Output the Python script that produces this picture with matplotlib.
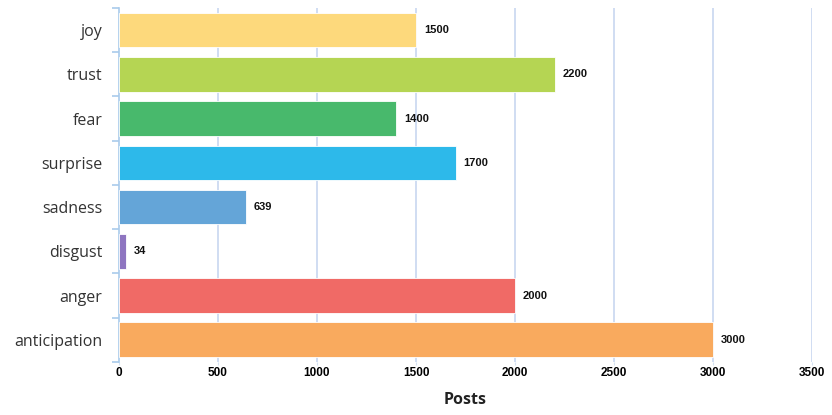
import matplotlib.pyplot as plt
import numpy as np

# emotion counts
emotions = ['joy', 'trust', 'fear', 'surprise', 'sadness', 'disgust', 'anger', 'anticipation']
posts = [1500, 2200, 1400, 1700, 639, 34, 2000, 3000]
colors = ['#FDD97C', '#B5D553', '#48B96C', '#2DB9EA', '#64A5D8', '#8E75C0', '#F06A66', '#F9AA5E']
xticks = [0, 500, 1000, 1500, 2000, 2500, 3000, 3500]

num_font = ['Liberation Sans Narrow', 'Liberation Sans', 'DejaVu Sans']
cat_font = ['Open Sans', 'DejaVu Sans']

fig = plt.figure(figsize=(8.32, 4.15), dpi=100)
ax = fig.add_axes([0.143, 0.128, 0.833, 0.853])

y = np.arange(len(emotions))
ax.barh(y, posts, height=0.78, color=colors, edgecolor='white', linewidth=0.6, zorder=3)

for yi, v in zip(y, posts):
    ax.text(v + 40, yi, str(v), va='center', ha='left', fontsize=8,
            fontweight='bold', family=num_font, color='#111111', zorder=4)

ax.set_xlim(0, 3500)
ax.set_ylim(len(emotions) - 0.5, -0.5)

# vertical gridlines
for t in xticks[1:]:
    ax.axvline(t, color='#D0DDF2', lw=1.4, zorder=1)

ax.set_xticks(xticks)
ax.set_xticklabels([str(t) for t in xticks], fontsize=8.5, fontweight='bold', family=num_font)
ax.tick_params(axis='x', length=2, color='#D5E2F2', pad=2)

ax.set_yticks(y)
ax.set_yticklabels(emotions, fontsize=11.5, family=cat_font, color='#333333')
ax.set_yticks(np.arange(-0.5, len(emotions), 1), minor=True)
ax.tick_params(axis='y', which='major', length=0, pad=12)
ax.tick_params(axis='y', which='minor', length=5, color='#A9CBEB', width=1.2)

for s in ['top', 'right', 'bottom']:
    ax.spines[s].set_visible(False)
ax.spines['left'].set_color('#A9CBEB')
ax.spines['left'].set_linewidth(1.2)

ax.set_xlabel('Posts', fontsize=11.5, fontweight='bold', family=cat_font, color='#222222', labelpad=9)

fig.savefig('out.png', dpi=100)
